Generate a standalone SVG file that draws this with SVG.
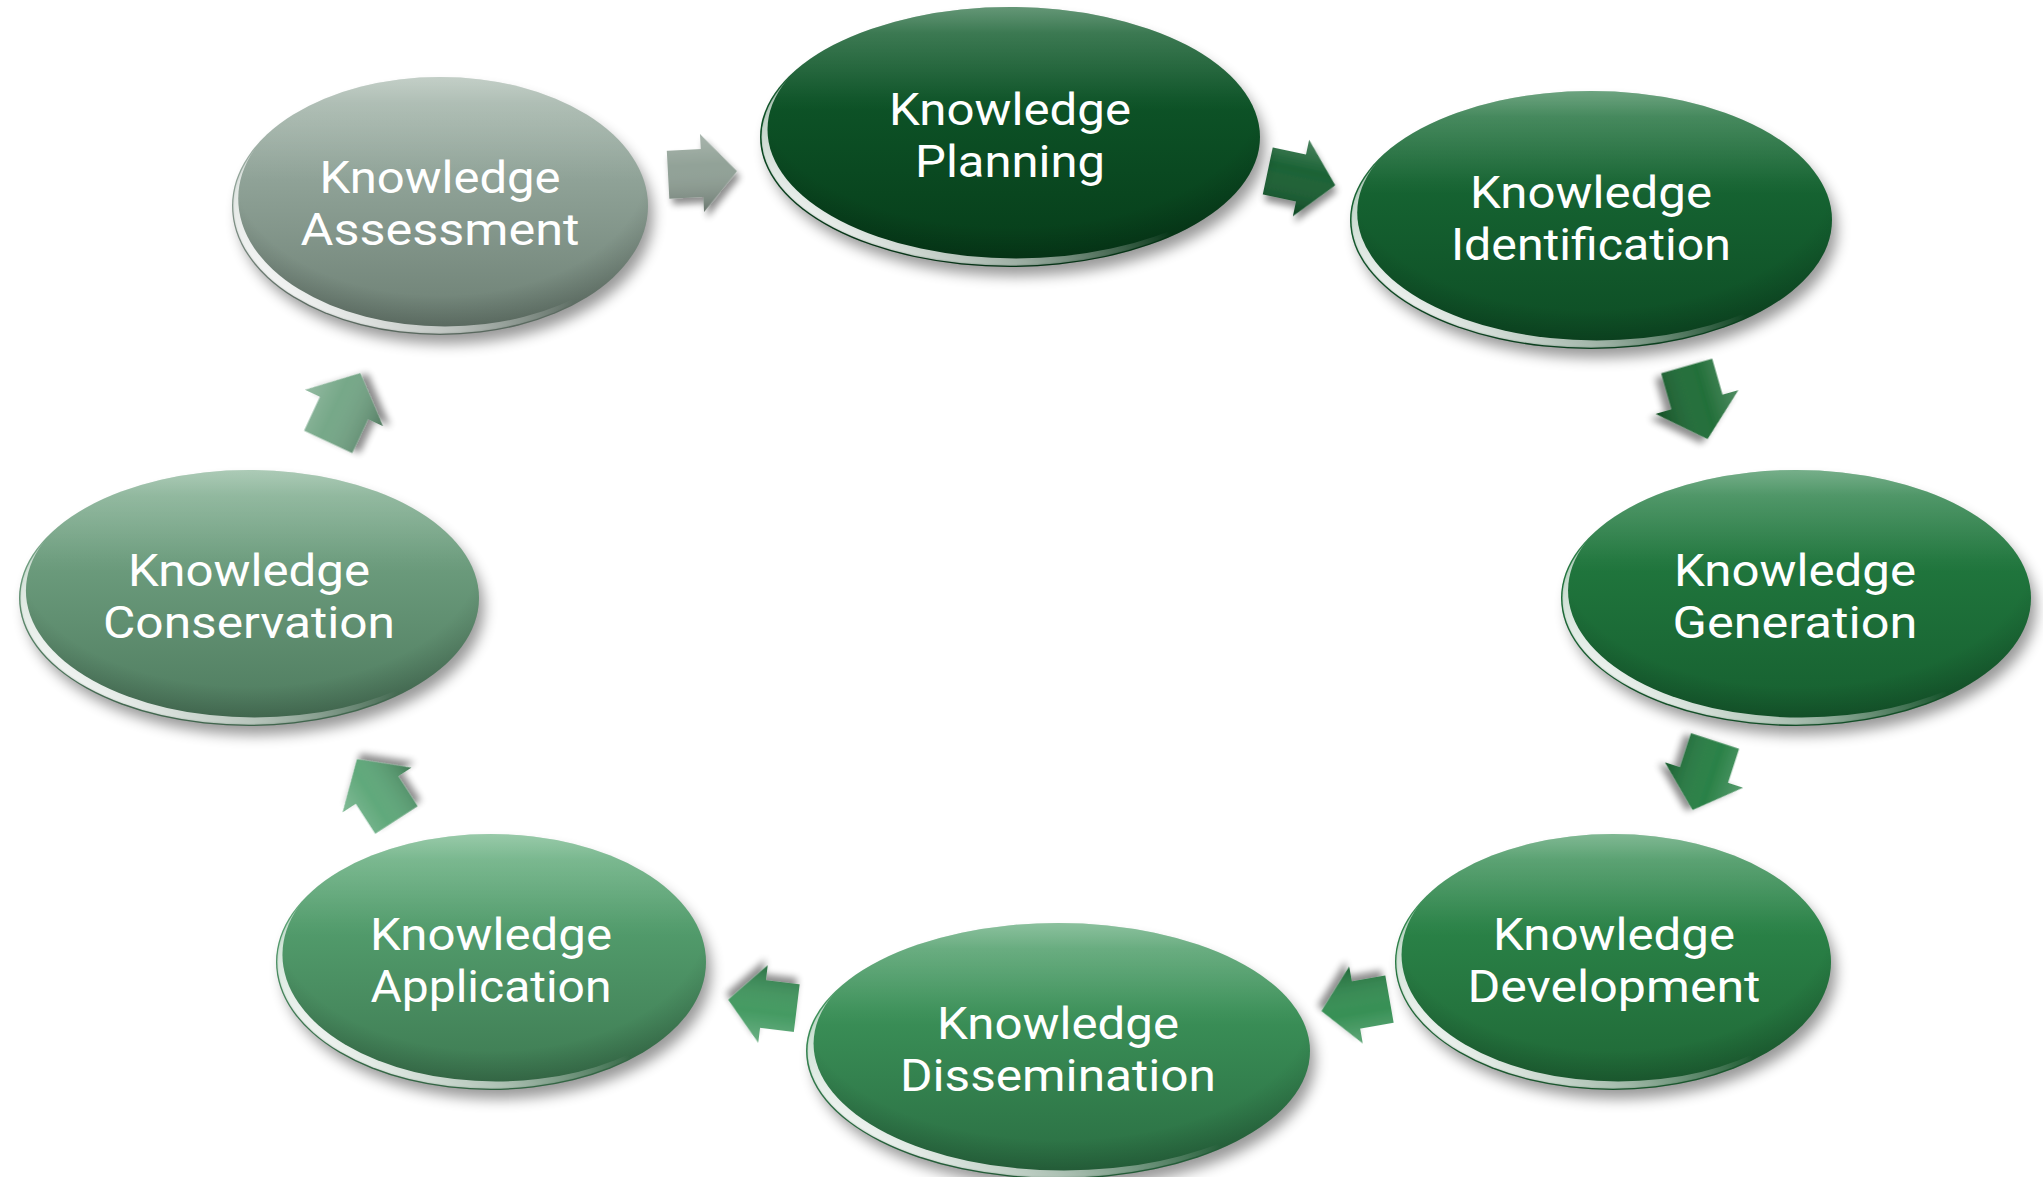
<svg xmlns="http://www.w3.org/2000/svg" xmlns:xlink="http://www.w3.org/1999/xlink" width="2043" height="1177" viewBox="0 0 2043 1177">
  <style>
    .lbl { font-family: Roboto, "Open Sans", "DejaVu Sans", sans-serif; font-weight: 400; font-size: 45px; fill: #ffffff; text-anchor: middle; }
    .rim { fill: url(#rimGlow); }
    .sheen { fill: url(#topSheen); }
    .shade { fill: url(#bottomShade); }
    .shadow { fill: #000; opacity: 0.4; }
  </style>
  <defs>
    <filter id="softShadow" x="-20%" y="-20%" width="140%" height="150%">
      <feGaussianBlur stdDeviation="7"/>
    </filter>
    <filter id="rimBlur" x="-5%" y="-5%" width="110%" height="110%">
      <feGaussianBlur stdDeviation="1.4"/>
    </filter>
    <filter id="arrowShadow" x="-40%" y="-40%" width="180%" height="180%">
      <feGaussianBlur in="SourceAlpha" stdDeviation="3.5"/>
      <feOffset dx="3" dy="6" result="b"/>
      <feComponentTransfer><feFuncA type="linear" slope="0.45"/></feComponentTransfer>
      <feMerge><feMergeNode/><feMergeNode in="SourceGraphic"/></feMerge>
    </filter>

    <!-- crescent along the lower-left edge of every ellipse -->
    <mask id="crescent" maskContentUnits="objectBoundingBox">
      <ellipse cx="0.5" cy="0.5" rx="0.497" ry="0.495" fill="#fff"/>
      <ellipse cx="0.512" cy="0.472" rx="0.497" ry="0.495" fill="#000"/>
    </mask>
    <linearGradient id="rimGlow" x1="0.1" y1="0.9" x2="0.6" y2="0.55">
      <stop offset="0" stop-color="#ffffff" stop-opacity="1"/>
      <stop offset="0.5" stop-color="#ffffff" stop-opacity="0.6"/>
      <stop offset="1" stop-color="#ffffff" stop-opacity="0"/>
    </linearGradient>
    <linearGradient id="topSheen" x1="0" y1="0" x2="0" y2="1">
      <stop offset="0" stop-color="#ffffff" stop-opacity="0.3"/>
      <stop offset="0.1" stop-color="#ffffff" stop-opacity="0.14"/>
      <stop offset="0.4" stop-color="#ffffff" stop-opacity="0"/>
    </linearGradient>
    <radialGradient id="bottomShade" cx="0.5" cy="0.35" r="0.62">
      <stop offset="0.8" stop-color="#000000" stop-opacity="0"/>
      <stop offset="1" stop-color="#000000" stop-opacity="0.18"/>
    </radialGradient>

    <!-- body fills, dark green through to grey green -->
    <linearGradient id="gPlan" x1="0" y1="0" x2="0" y2="1">
      <stop offset="0" stop-color="#226a3c"/><stop offset="0.35" stop-color="#0d5327"/><stop offset="1" stop-color="#063c19"/>
    </linearGradient>
    <linearGradient id="gIden" x1="0" y1="0" x2="0" y2="1">
      <stop offset="0" stop-color="#2f7d4a"/><stop offset="0.35" stop-color="#166432"/><stop offset="1" stop-color="#0d4c24"/>
    </linearGradient>
    <linearGradient id="gGene" x1="0" y1="0" x2="0" y2="1">
      <stop offset="0" stop-color="#3b8c57"/><stop offset="0.35" stop-color="#20763d"/><stop offset="1" stop-color="#165e2f"/>
    </linearGradient>
    <linearGradient id="gDeve" x1="0" y1="0" x2="0" y2="1">
      <stop offset="0" stop-color="#4a9a65"/><stop offset="0.35" stop-color="#2a8247"/><stop offset="1" stop-color="#1f6736"/>
    </linearGradient>
    <linearGradient id="gDiss" x1="0" y1="0" x2="0" y2="1">
      <stop offset="0" stop-color="#5aa674"/><stop offset="0.35" stop-color="#3a8f57"/><stop offset="1" stop-color="#2a6d42"/>
    </linearGradient>
    <linearGradient id="gAppl" x1="0" y1="0" x2="0" y2="1">
      <stop offset="0" stop-color="#6cb384"/><stop offset="0.35" stop-color="#529c6c"/><stop offset="1" stop-color="#3d7951"/>
    </linearGradient>
    <linearGradient id="gCons" x1="0" y1="0" x2="0" y2="1">
      <stop offset="0" stop-color="#88b497"/><stop offset="0.35" stop-color="#6c9c7d"/><stop offset="1" stop-color="#4d7a5d"/>
    </linearGradient>
    <linearGradient id="gAsse" x1="0" y1="0" x2="0" y2="1">
      <stop offset="0" stop-color="#a9baaf"/><stop offset="0.35" stop-color="#92a59a"/><stop offset="1" stop-color="#6b7e72"/>
    </linearGradient>

    <!-- block arrow pointing along +x, centred on the origin -->
    <path id="arw" d="M-34,-24 L0,-24 L0,-39 L35,0 L0,39 L0,24 L-34,24 Z"/>
    <linearGradient id="arrowShade" x1="0" y1="0" x2="0" y2="1">
      <stop offset="0" stop-color="#ffffff" stop-opacity="0.25"/>
      <stop offset="0.4" stop-color="#ffffff" stop-opacity="0.05"/>
      <stop offset="1" stop-color="#000000" stop-opacity="0.25"/>
    </linearGradient>
  </defs>

  <rect width="2043" height="1177" fill="#ffffff"/>

  <!-- connectors -->
  <g id="connectors">
    <g filter="url(#arrowShadow)" transform="translate(702,173) rotate(-3)">
      <use xlink:href="#arw" fill="#8c9d92"/><use xlink:href="#arw" fill="url(#arrowShade)"/>
    </g>
    <g filter="url(#arrowShadow)" transform="translate(1301,178) rotate(12)">
      <use xlink:href="#arw" fill="#0f5a2a"/><use xlink:href="#arw" fill="url(#arrowShade)"/>
    </g>
    <g filter="url(#arrowShadow)" transform="translate(1697,402) rotate(74) scale(1.1)">
      <use xlink:href="#arw" fill="#17672f"/><use xlink:href="#arw" fill="url(#arrowShade)"/>
    </g>
    <g filter="url(#arrowShadow)" transform="translate(1704,775) rotate(108) scale(1.05)">
      <use xlink:href="#arw" fill="#1f7a3d"/><use xlink:href="#arw" fill="url(#arrowShade)"/>
    </g>
    <g filter="url(#arrowShadow)" transform="translate(1356,1005) rotate(170)">
      <use xlink:href="#arw" fill="#2c8a4c"/><use xlink:href="#arw" fill="url(#arrowShade)"/>
    </g>
    <g filter="url(#arrowShadow)" transform="translate(763,1004) rotate(187)">
      <use xlink:href="#arw" fill="#3a955a"/><use xlink:href="#arw" fill="url(#arrowShade)"/>
    </g>
    <g filter="url(#arrowShadow)" transform="translate(377,790) rotate(237) scale(1.05)">
      <use xlink:href="#arw" fill="#58a474"/><use xlink:href="#arw" fill="url(#arrowShade)"/>
    </g>
    <g filter="url(#arrowShadow)" transform="translate(344,408) rotate(295) scale(1.1)">
      <use xlink:href="#arw" fill="#6fa382"/><use xlink:href="#arw" fill="url(#arrowShade)"/>
    </g>
  </g>

  <!-- nodes -->
  <g id="node-planning">
    <ellipse class="shadow" filter="url(#softShadow)" cx="1016" cy="147" rx="249" ry="129"/>
    <ellipse cx="1010" cy="137" rx="250" ry="130" fill="url(#gPlan)"/>
    <ellipse class="shade" cx="1010" cy="137" rx="250" ry="130"/>
    <ellipse class="sheen" cx="1010" cy="137" rx="250" ry="130"/>
    <ellipse class="rim" filter="url(#rimBlur)" mask="url(#crescent)" cx="1010" cy="137" rx="250" ry="130"/>
    <text class="lbl" x="1010" y="125" textLength="242" lengthAdjust="spacingAndGlyphs">Knowledge</text>
    <text class="lbl" x="1010" y="177" textLength="190" lengthAdjust="spacingAndGlyphs">Planning</text>
  </g>

  <g id="node-identification">
    <ellipse class="shadow" filter="url(#softShadow)" cx="1597" cy="230" rx="240" ry="128"/>
    <ellipse cx="1591" cy="220" rx="241" ry="129" fill="url(#gIden)"/>
    <ellipse class="shade" cx="1591" cy="220" rx="241" ry="129"/>
    <ellipse class="sheen" cx="1591" cy="220" rx="241" ry="129"/>
    <ellipse class="rim" filter="url(#rimBlur)" mask="url(#crescent)" cx="1591" cy="220" rx="241" ry="129"/>
    <text class="lbl" x="1591" y="208" textLength="242" lengthAdjust="spacingAndGlyphs">Knowledge</text>
    <text class="lbl" x="1591" y="260" textLength="280" lengthAdjust="spacingAndGlyphs">Identification</text>
  </g>

  <g id="node-generation">
    <ellipse class="shadow" filter="url(#softShadow)" cx="1802" cy="608" rx="234" ry="127"/>
    <ellipse cx="1796" cy="598" rx="235" ry="128" fill="url(#gGene)"/>
    <ellipse class="shade" cx="1796" cy="598" rx="235" ry="128"/>
    <ellipse class="sheen" cx="1796" cy="598" rx="235" ry="128"/>
    <ellipse class="rim" filter="url(#rimBlur)" mask="url(#crescent)" cx="1796" cy="598" rx="235" ry="128"/>
    <text class="lbl" x="1795" y="586" textLength="242" lengthAdjust="spacingAndGlyphs">Knowledge</text>
    <text class="lbl" x="1795" y="638" textLength="245" lengthAdjust="spacingAndGlyphs">Generation</text>
  </g>

  <g id="node-development">
    <ellipse class="shadow" filter="url(#softShadow)" cx="1619" cy="972" rx="217" ry="127"/>
    <ellipse cx="1613" cy="962" rx="218" ry="128" fill="url(#gDeve)"/>
    <ellipse class="shade" cx="1613" cy="962" rx="218" ry="128"/>
    <ellipse class="sheen" cx="1613" cy="962" rx="218" ry="128"/>
    <ellipse class="rim" filter="url(#rimBlur)" mask="url(#crescent)" cx="1613" cy="962" rx="218" ry="128"/>
    <text class="lbl" x="1614" y="950" textLength="242" lengthAdjust="spacingAndGlyphs">Knowledge</text>
    <text class="lbl" x="1614" y="1002" textLength="293" lengthAdjust="spacingAndGlyphs">Development</text>
  </g>

  <g id="node-dissemination">
    <ellipse class="shadow" filter="url(#softShadow)" cx="1064" cy="1061" rx="251" ry="127"/>
    <ellipse cx="1058" cy="1051" rx="252" ry="128" fill="url(#gDiss)"/>
    <ellipse class="shade" cx="1058" cy="1051" rx="252" ry="128"/>
    <ellipse class="sheen" cx="1058" cy="1051" rx="252" ry="128"/>
    <ellipse class="rim" filter="url(#rimBlur)" mask="url(#crescent)" cx="1058" cy="1051" rx="252" ry="128"/>
    <text class="lbl" x="1058" y="1039" textLength="242" lengthAdjust="spacingAndGlyphs">Knowledge</text>
    <text class="lbl" x="1058" y="1091" textLength="316" lengthAdjust="spacingAndGlyphs">Dissemination</text>
  </g>

  <g id="node-application">
    <ellipse class="shadow" filter="url(#softShadow)" cx="497" cy="972" rx="214" ry="127"/>
    <ellipse cx="491" cy="962" rx="215" ry="128" fill="url(#gAppl)"/>
    <ellipse class="shade" cx="491" cy="962" rx="215" ry="128"/>
    <ellipse class="sheen" cx="491" cy="962" rx="215" ry="128"/>
    <ellipse class="rim" filter="url(#rimBlur)" mask="url(#crescent)" cx="491" cy="962" rx="215" ry="128"/>
    <text class="lbl" x="491" y="950" textLength="242" lengthAdjust="spacingAndGlyphs">Knowledge</text>
    <text class="lbl" x="491" y="1002" textLength="241" lengthAdjust="spacingAndGlyphs">Application</text>
  </g>

  <g id="node-conservation">
    <ellipse class="shadow" filter="url(#softShadow)" cx="255" cy="608" rx="229" ry="127"/>
    <ellipse cx="249" cy="598" rx="230" ry="128" fill="url(#gCons)"/>
    <ellipse class="shade" cx="249" cy="598" rx="230" ry="128"/>
    <ellipse class="sheen" cx="249" cy="598" rx="230" ry="128"/>
    <ellipse class="rim" filter="url(#rimBlur)" mask="url(#crescent)" cx="249" cy="598" rx="230" ry="128"/>
    <text class="lbl" x="249" y="586" textLength="242" lengthAdjust="spacingAndGlyphs">Knowledge</text>
    <text class="lbl" x="249" y="638" textLength="292" lengthAdjust="spacingAndGlyphs">Conservation</text>
  </g>

  <g id="node-assessment">
    <ellipse class="shadow" filter="url(#softShadow)" cx="446" cy="216" rx="207" ry="128"/>
    <ellipse cx="440" cy="206" rx="208" ry="129" fill="url(#gAsse)"/>
    <ellipse class="shade" cx="440" cy="206" rx="208" ry="129"/>
    <ellipse class="sheen" cx="440" cy="206" rx="208" ry="129"/>
    <ellipse class="rim" filter="url(#rimBlur)" mask="url(#crescent)" cx="440" cy="206" rx="208" ry="129"/>
    <text class="lbl" x="440" y="193" textLength="241" lengthAdjust="spacingAndGlyphs">Knowledge</text>
    <text class="lbl" x="440" y="245" textLength="279" lengthAdjust="spacingAndGlyphs">Assessment</text>
  </g>
</svg>
